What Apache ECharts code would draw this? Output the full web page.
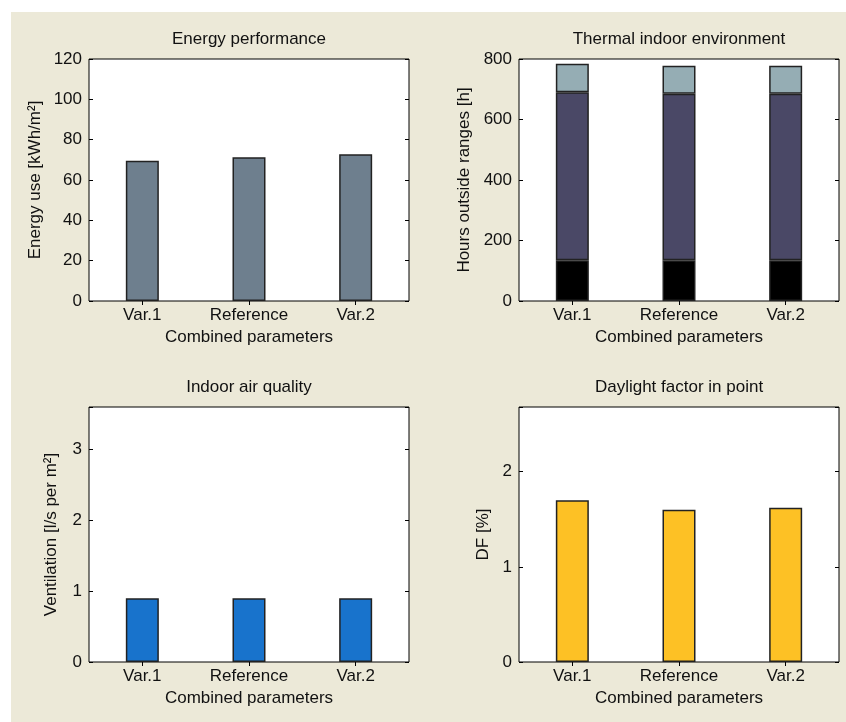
<!DOCTYPE html>
<html><head><meta charset="utf-8">
<script src="https://cdn.jsdelivr.net/npm/echarts@6/dist/echarts.min.js"></script>
<style>html,body{margin:0;padding:0;background:#fff}#c{width:846px;height:722px}</style>
</head><body><div id="c"></div><script>
// ---- data ----
const categories = ['Var.1', 'Reference', 'Var.2'];
const energyUse = [69.5, 71.3, 72.8];
const hoursLow = [135, 135, 135];
const hoursMid = [555, 550, 550];
const hoursHigh = [94, 93, 93];
const ventilation = [0.9, 0.9, 0.9];
const daylightFactor = [1.70, 1.60, 1.62];

const titles = ['Energy performance', 'Thermal indoor environment', 'Indoor air quality', 'Daylight factor in point'];
const yNames = ['Energy use [kWh/m²]', 'Hours outside ranges [h]', 'Ventilation [l/s per m²]', 'DF [%]'];
const xName = 'Combined parameters';
const yMin = [0, 0, 0, 0];
const yMax = [120, 800, 3.6, 2.68];
const yInterval = [20, 200, 1, 1];

// ---- layout / style ----
const FONT = '"Liberation Sans", Arial, sans-serif';
const FS = 17;
const TXT = '#111';
const grids = [
  {left: 89, top: 59, width: 320, height: 242},
  {left: 519, top: 59, width: 320, height: 242},
  {left: 89, top: 407, width: 320, height: 255},
  {left: 519, top: 407, width: 320, height: 255}
];
const yNameGap = [45, 46, 29, 27];
const titleY = [39, 39, 387, 387];

const xAxes = [], yAxes = [];
grids.forEach((g, i) => {
  xAxes.push({
    gridIndex: i, type: 'category', data: categories, position: 'bottom',
    axisLine: {show: false},
    axisTick: {show: true, inside: true, length: 4, alignWithLabel: true, lineStyle: {color: '#000'}},
    axisLabel: {margin: 6, fontSize: FS, color: TXT, fontFamily: FONT},
    name: xName, nameLocation: 'middle', nameGap: 28,
    nameTextStyle: {fontSize: FS, color: TXT, fontFamily: FONT}
  });
  xAxes.push({
    gridIndex: i, type: 'category', data: categories, position: 'top',
    axisLine: {show: false},
    axisTick: {show: true, inside: true, length: 4, alignWithLabel: true, lineStyle: {color: '#000'}},
    axisLabel: {show: false}
  });
  const fmt = v => (Math.abs(v - Math.round(v / yInterval[i]) * yInterval[i]) < 1e-9 ? String(v) : '');
  yAxes.push({
    gridIndex: i, type: 'value', position: 'left',
    min: yMin[i], max: yMax[i], interval: yInterval[i],
    axisLine: {show: false}, splitLine: {show: false},
    axisTick: {show: true, inside: true, length: 4, lineStyle: {color: '#000'}},
    axisLabel: {margin: 7, fontSize: FS, color: TXT, fontFamily: FONT, formatter: fmt},
    name: yNames[i], nameLocation: 'middle', nameGap: yNameGap[i],
    nameTextStyle: {fontSize: FS, color: TXT, fontFamily: FONT}
  });
  yAxes.push({
    gridIndex: i, type: 'value', position: 'right',
    min: yMin[i], max: yMax[i], interval: yInterval[i],
    axisLine: {show: false}, splitLine: {show: false},
    axisTick: {show: true, inside: true, length: 4, lineStyle: {color: '#000'}},
    axisLabel: {show: false}
  });
});

function bar(gi, data, color, stack) {
  return {
    type: 'bar', barWidth: 33,
    xAxisIndex: gi * 2, yAxisIndex: gi * 2, data: data, stack: stack,
    itemStyle: {color: color, borderColor: '#222', borderWidth: 1.5}
  };
}

const graphic = [
  {type: 'rect', shape: {x: 0, y: 0, width: 846, height: 12}, style: {fill: '#fff'}, silent: true},
  {type: 'rect', shape: {x: 0, y: 0, width: 11, height: 722}, style: {fill: '#fff'}, silent: true}
];
grids.forEach((g, i) => {
  graphic.push({
    type: 'text', x: g.left + g.width / 2, y: titleY[i],
    style: {text: titles[i], font: FS + 'px ' + FONT, fill: TXT, textAlign: 'center', textVerticalAlign: 'middle'}
  });
});

const chart = echarts.init(document.getElementById('c'));
chart.setOption({
  animation: false,
  backgroundColor: '#ece9d8',
  graphic: graphic,
  grid: grids.map(g => Object.assign({show: true, backgroundColor: '#fff', borderColor: '#000', borderWidth: 1}, g)),
  xAxis: xAxes,
  yAxis: yAxes,
  series: [
    bar(0, energyUse, '#6e7f8e'),
    bar(1, hoursLow, '#000000', 'h'),
    bar(1, hoursMid, '#4a4866', 'h'),
    bar(1, hoursHigh, '#95adb4', 'h'),
    bar(2, ventilation, '#1873cc'),
    bar(3, daylightFactor, '#fdc125')
  ]
});
</script></body></html>
